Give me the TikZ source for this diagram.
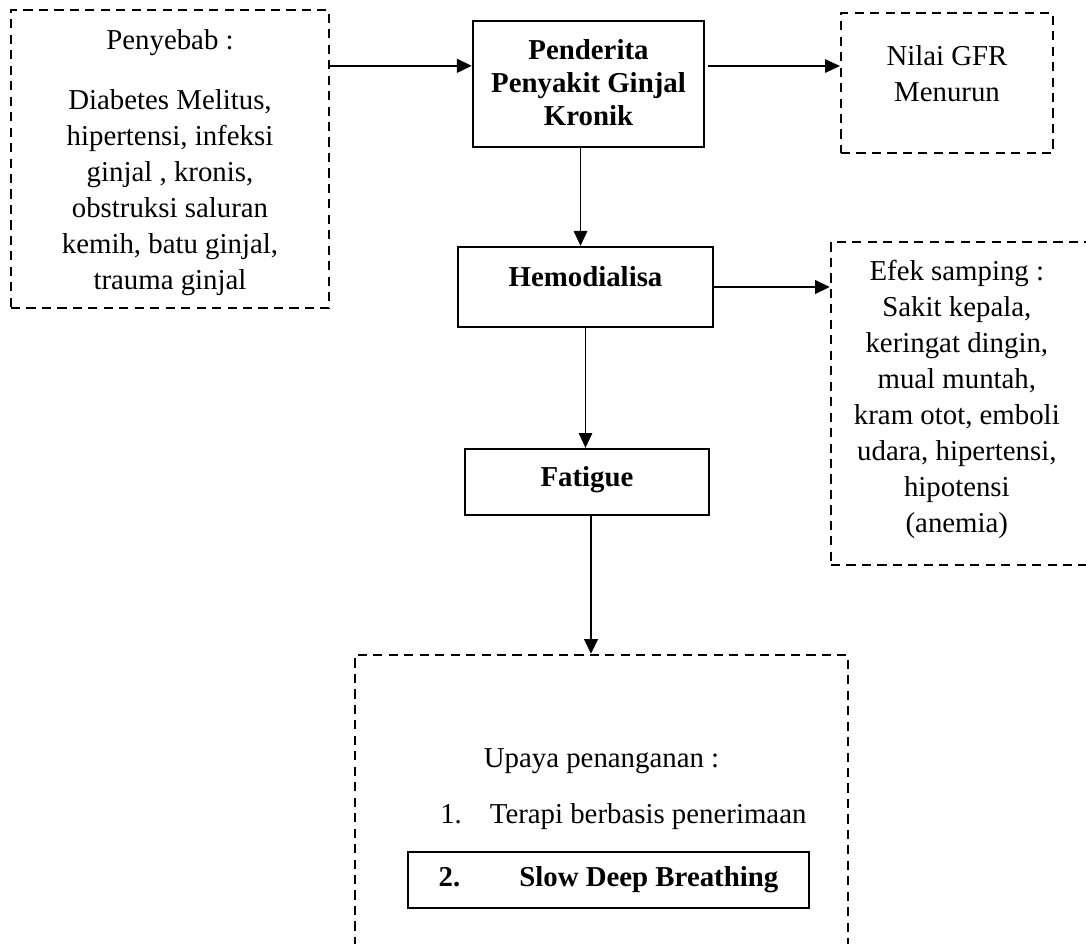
\documentclass[tikz,border=0pt]{standalone}
\usepackage{fontspec}
\setmainfont{Liberation Serif}
\usepackage{tikz}
\usetikzlibrary{arrows.meta,positioning,calc}

\begin{document}
\begin{tikzpicture}[x=0.025cm, y=-0.025cm,
        solidbox/.style={rectangle, draw, line width=1.7pt, inner sep=0pt},
        dashbox/.style={rectangle, draw, line width=1.6pt, dash pattern=on 6.5pt off 4.5pt, inner sep=0pt},
        boxtext/.style={align=center, inner sep=0pt, font=\fontsize{20.5pt}{25.6pt}\selectfont},
        boldtext/.style={align=center, inner sep=0pt, font=\fontsize{20.5pt}{23.4pt}\selectfont\bfseries},
        thinarrow/.style={-{Triangle[length=0.37cm, width=0.34cm]}, line width=0.8pt},
        thickarrow/.style={-{Triangle[length=0.37cm, width=0.34cm]}, line width=1.7pt}]
        \useasboundingbox (0,0) rectangle (1086,943);
        \clip (0,0) rectangle (1086,943);

        % boxes
        \node(penyebab) [dashbox, minimum width = 7.95cm, minimum height = 7.45cm] at (170,159) {};
        \node(penderita) [solidbox, minimum width = 5.775cm, minimum height = 3.15cm] at (588.5,84) {};
        \node(nilai) [dashbox, minimum width = 5.3cm, minimum height = 3.5cm] at (947,83) {};
        \node(hemo) [solidbox, minimum width = 6.375cm, minimum height = 2cm] at (585.5,287) {};
        \node(efek) [dashbox, minimum width = 6.975cm, minimum height = 8.075cm] at (970.5,403.5) {};
        \node(fatigue) [solidbox, minimum width = 6.1cm, minimum height = 1.65cm] at (587,482) {};
        \node(upaya) [dashbox, minimum width = 12.325cm, minimum height = 8.125cm] at (601.5,817.5) {};

        % texts
        \node(penyebabtxt) [boxtext] at ($(penyebab)+(0,4)$) {Penyebab :\\[0.6cm] Diabetes Melitus,\\ hipertensi, infeksi\\ ginjal , kronis,\\ obstruksi saluran\\ kemih, batu ginjal,\\ trauma ginjal};
        \node(pendertxt) [boldtext] at ($(penderita)+(0,-1)$) {Penderita\\ Penyakit Ginjal\\ Kronik};
        \node(nilaitxt) [boxtext] at ($(nilai)+(0,-9)$) {Nilai GFR\\ Menurun};
        \node(hemotxt) [boldtext] at ($(hemo)+(0,-10)$) {Hemodialisa};
        \node(efektxt) [boxtext] at ($(efek.west)+(127,-4)$) {Efek samping :\\ Sakit kepala,\\ keringat dingin,\\ mual muntah,\\ kram otot, emboli\\ udara, hipertensi,\\ hipotensi\\ (anemia)};
        \node(fatiguetxt) [boldtext] at ($(fatigue)+(0,-2)$) {Fatigue};
        \node(upayatxt) [boxtext] at ($(upaya.north)+(0,107)$) {Upaya penanganan :};
        \node(terapitxt) [boxtext, anchor=west] at (440,817) {1.\hspace{0.7cm}Terapi berbasis penerimaan};
        \node(breath) [solidbox, boldtext, minimum width = 10.025cm, minimum height = 1.4cm] at (608.5,880) {2.\hspace{1.475cm}Slow Deep Breathing};

        % arrows
        \coordinate (a1) at ($(penyebab.north east)+(0,57)$);
        \coordinate (a2) at ($(penderita.east)+(3,-18)$);
        \coordinate (a3) at ($(penderita.south)+(-8,0)$);
        \coordinate (a4) at ($(fatigue.south)+(4,0)$);
        \draw[thickarrow] (a1) -- (a1 -| penderita.west);
        \draw[thinarrow] (a2) -- (a2 -| nilai.west);
        \draw[thinarrow] (a3) -- (a3 |- hemo.north);
        \draw[thickarrow] (hemo.east) -- (hemo.east -| efek.west);
        \draw[thinarrow] (hemo.south) -- (hemo.south |- fatigue.north);
        \draw[thickarrow] (a4) -- (a4 |- upaya.north);
    \end{tikzpicture}
\end{document}
